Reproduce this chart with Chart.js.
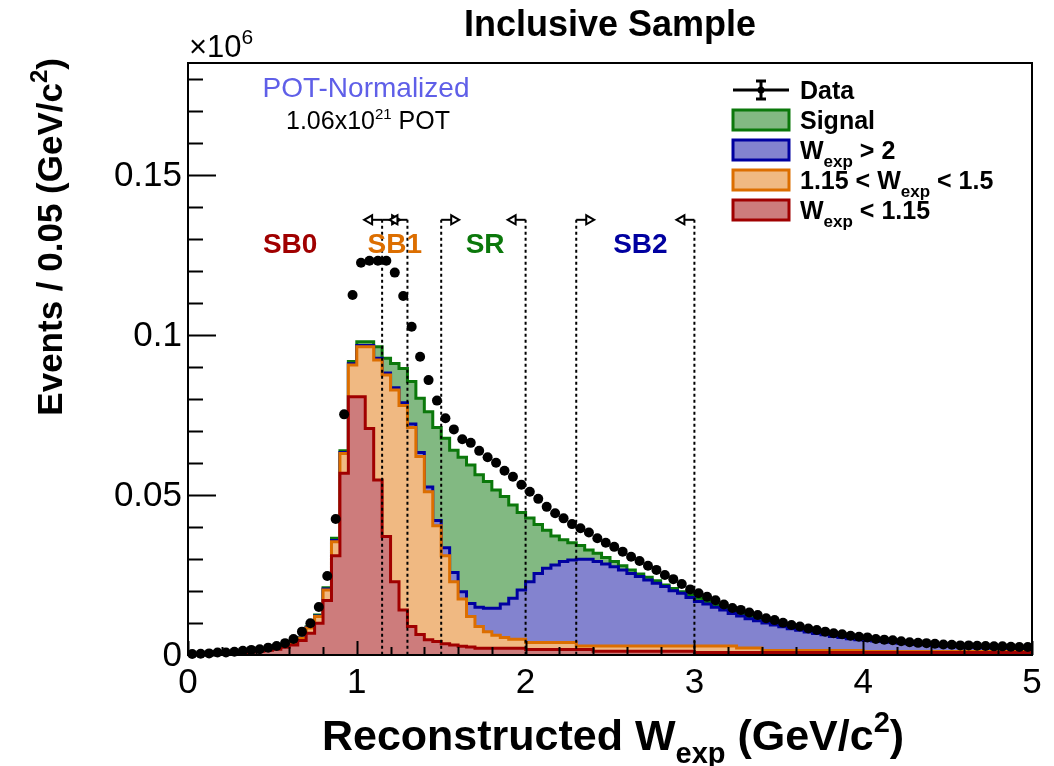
<!DOCTYPE html>
<html lang="en">
<head>
<meta charset="UTF-8">
<title>Inclusive Sample</title>
<script src="https://cdn.jsdelivr.net/npm/chart.js"></script>
<style>
  body { margin: 0; background: #fff; }
</style>
</head>
<body>
<canvas id="wexpChart" width="1054" height="766"></canvas>
<script>
// Reconstructed W_exp, 0 - 5 GeV/c^2 in 0.05 bins. Values are in units of 10^6 events.
const binWidth = 0.05;

// W_exp < 1.15 (red)
const wLow = [
  0.0002, 0.0002, 0.0003, 0.0004, 0.0005, 0.0006, 0.0008, 0.0010, 0.0012, 0.0015,
  0.0018, 0.0024, 0.0031, 0.0045, 0.0068, 0.0099, 0.0170, 0.0310, 0.0568, 0.0807,
  0.0807, 0.0708, 0.0547, 0.0370, 0.0229, 0.0141, 0.0089, 0.0064, 0.0048, 0.0042,
  0.0035, 0.0031, 0.0027, 0.0025, 0.0021, 0.0021, 0.0021, 0.0021, 0.0021, 0.0021,
  0.0017, 0.0017, 0.0017, 0.0017, 0.0017, 0.0017, 0.0017, 0.0017, 0.0012, 0.0012,
  0.0012, 0.0012, 0.0012, 0.0012, 0.0012, 0.0012, 0.0012, 0.0012, 0.0012, 0.0012,
  0.0008, 0.0008, 0.0008, 0.0008, 0.0008, 0.0008, 0.0008, 0.0008, 0.0008, 0.0008,
  0.0008, 0.0008, 0.0008, 0.0008, 0.0008, 0.0008, 0.0008, 0.0008, 0.0008, 0.0008,
  0.0008, 0.0008, 0.0008, 0.0008, 0.0008, 0.0008, 0.0008, 0.0008, 0.0008, 0.0008,
  0.0008, 0.0008, 0.0008, 0.0008, 0.0008, 0.0008, 0.0008, 0.0008, 0.0008, 0.0008
];

// 1.15 < W_exp < 1.5 (orange)
const wMid = [
  0.0001, 0.0001, 0.0001, 0.0001, 0.0001, 0.0001, 0.0001, 0.0002, 0.0002, 0.0002,
  0.0002, 0.0003, 0.0005, 0.0007, 0.0016, 0.0021, 0.0033, 0.0044, 0.0062, 0.0099,
  0.0156, 0.0255, 0.0375, 0.0505, 0.0599, 0.0639, 0.0622, 0.0556, 0.0462, 0.0362,
  0.0275, 0.0198, 0.0148, 0.0095, 0.0068, 0.0052, 0.0041, 0.0034, 0.0028, 0.0028,
  0.0022, 0.0022, 0.0022, 0.0022, 0.0022, 0.0022, 0.0011, 0.0011, 0.0016, 0.0016,
  0.0016, 0.0016, 0.0016, 0.0016, 0.0016, 0.0016, 0.0016, 0.0016, 0.0016, 0.0016,
  0.0020, 0.0020, 0.0020, 0.0020, 0.0020, 0.0014, 0.0014, 0.0014, 0.0006, 0.0006,
  0.0006, 0.0006, 0.0006, 0.0006, 0.0006, 0.0006, 0.0006, 0.0006, 0.0006, 0.0006,
  0.0003, 0.0003, 0.0003, 0.0003, 0.0003, 0.0003, 0.0003, 0.0003, 0.0003, 0.0003,
  0.0003, 0.0003, 0.0003, 0.0003, 0.0003, 0.0003, 0.0003, 0.0003, 0.0003, 0.0003
];

// W_exp > 2 (blue)
const wHigh = [
  0.0000, 0.0000, 0.0000, 0.0000, 0.0000, 0.0000, 0.0000, 0.0000, 0.0000, 0.0000,
  0.0001, 0.0001, 0.0001, 0.0001, 0.0002, 0.0002, 0.0003, 0.0004, 0.0003, 0.0004,
  0.0004, 0.0004, 0.0005, 0.0006, 0.0007, 0.0008, 0.0011, 0.0013, 0.0015, 0.0016,
  0.0025, 0.0029, 0.0023, 0.0041, 0.0060, 0.0073, 0.0084, 0.0104, 0.0128, 0.0154,
  0.0190, 0.0216, 0.0232, 0.0242, 0.0253, 0.0258, 0.0271, 0.0271, 0.0264, 0.0256,
  0.0248, 0.0238, 0.0227, 0.0217, 0.0206, 0.0196, 0.0186, 0.0173, 0.0165, 0.0152,
  0.0139, 0.0131, 0.0121, 0.0113, 0.0102, 0.0100, 0.0091, 0.0085, 0.0086, 0.0080,
  0.0074, 0.0068, 0.0063, 0.0058, 0.0053, 0.0049, 0.0044, 0.0041, 0.0037, 0.0034,
  0.0034, 0.0033, 0.0031, 0.0029, 0.0026, 0.0024, 0.0022, 0.0021, 0.0019, 0.0017,
  0.0016, 0.0015, 0.0014, 0.0013, 0.0012, 0.0011, 0.0011, 0.0010, 0.0009, 0.0009
];

// Signal (green)
const signal = [
  0.0000, 0.0000, 0.0000, 0.0000, 0.0000, 0.0000, 0.0000, 0.0000, 0.0000, 0.0000,
  0.0001, 0.0001, 0.0001, 0.0001, 0.0002, 0.0003, 0.0004, 0.0007, 0.0005, 0.0007,
  0.0012, 0.0012, 0.0036, 0.0046, 0.0076, 0.0107, 0.0133, 0.0169, 0.0235, 0.0291,
  0.0342, 0.0382, 0.0420, 0.0433, 0.0414, 0.0396, 0.0370, 0.0336, 0.0292, 0.0242,
  0.0199, 0.0153, 0.0119, 0.0091, 0.0068, 0.0054, 0.0043, 0.0029, 0.0026, 0.0021,
  0.0016, 0.0013, 0.0011, 0.0008, 0.0009, 0.0008, 0.0005, 0.0007, 0.0005, 0.0008,
  0.0010, 0.0008, 0.0007, 0.0005, 0.0005, 0.0005, 0.0005, 0.0005, 0.0005, 0.0004,
  0.0004, 0.0004, 0.0003, 0.0003, 0.0003, 0.0002, 0.0002, 0.0002, 0.0002, 0.0002,
  0.0002, 0.0002, 0.0002, 0.0002, 0.0002, 0.0002, 0.0002, 0.0002, 0.0002, 0.0002,
  0.0002, 0.0002, 0.0002, 0.0002, 0.0002, 0.0002, 0.0002, 0.0002, 0.0002, 0.0002
];

// Data (black points)
const dataPts = [
  0.0003, 0.0004, 0.0005, 0.0008, 0.0008, 0.0010, 0.0013, 0.0016, 0.0018, 0.0023,
  0.0028, 0.0037, 0.0050, 0.0073, 0.0099, 0.0150, 0.0247, 0.0425, 0.0752, 0.1125,
  0.1226, 0.1232, 0.1232, 0.1232, 0.1195, 0.1122, 0.1026, 0.0932, 0.0859, 0.0795,
  0.0740, 0.0705, 0.0674, 0.0663, 0.0638, 0.0618, 0.0601, 0.0576, 0.0557, 0.0532,
  0.0510, 0.0488, 0.0463, 0.0443, 0.0427, 0.0409, 0.0396, 0.0383, 0.0365, 0.0351,
  0.0338, 0.0323, 0.0307, 0.0294, 0.0279, 0.0266, 0.0250, 0.0237, 0.0222, 0.0205,
  0.0193, 0.0182, 0.0171, 0.0158, 0.0147, 0.0141, 0.0133, 0.0125, 0.0115, 0.0109,
  0.0101, 0.0094, 0.0089, 0.0083, 0.0078, 0.0073, 0.0068, 0.0065, 0.0060, 0.0057,
  0.0055, 0.0050, 0.0048, 0.0046, 0.0043, 0.0040, 0.0038, 0.0037, 0.0035, 0.0033,
  0.0032, 0.0030, 0.0030, 0.0029, 0.0028, 0.0027, 0.0027, 0.0026, 0.0025, 0.0025
];

const xTicks = [0, 1, 2, 3, 4, 5];
const yTicks = [0, 0.05, 0.1, 0.15];
const yTickLabels = ['0', '0.05', '0.1', '0.15'];

// sideband / signal region cuts and their labels
const regionCuts = [1.15, 1.3, 1.5, 2.0, 2.3, 3.0];
const regionNames = ['SB0', 'SB1', 'SR', 'SB2'];
const regionCenters = [0.605, 1.225, 1.76, 2.68];

const FONT = '"Liberation Sans", Arial, Helvetica, sans-serif';
const colors = {
  green: '#0b780b',
  blue: '#0000a0',
  orange: '#dc6e00',
  red: '#a00000',
  pot: '#5f5fe8'
};
// pale fills (ROOT's fine dot pattern seen from afar)
const fills = {
  green: '#82b982',
  blue: '#8383cf',
  orange: '#f0b982',
  red: '#cd7c7c'
};

const canvas = document.getElementById('wexpChart');
const ctx = canvas.getContext('2d');

// stack the components
const cumLow = wLow.slice();
const cumMid = cumLow.map((v, i) => v + wMid[i]);
const cumHigh = cumMid.map((v, i) => v + wHigh[i]);
const cumSig = cumHigh.map((v, i) => v + signal[i]);

// step outline: one point per left bin edge plus the closing edge
function steps(vals) {
  const pts = vals.map((v, i) => ({ x: i * binWidth, y: v }));
  pts.push({ x: vals.length * binWidth, y: vals[vals.length - 1] });
  return pts;
}

function histDataset(label, parts, vals, key, order) {
  return {
    label: label,
    labelParts: parts,
    data: steps(vals),
    stepped: true,
    borderColor: colors[key],
    borderWidth: 3,
    backgroundColor: fills[key],
    fill: 'origin',
    pointRadius: 0,
    order: order
  };
}

const datasets = [
  {
    label: 'Data',
    labelParts: [['Data', '']],
    data: dataPts.map((v, i) => ({ x: (i + 0.5) * binWidth, y: v })),
    showLine: false,
    pointRadius: 5,
    pointBackgroundColor: '#000',
    pointBorderColor: '#000',
    pointBorderWidth: 0,
    clip: false,
    order: 0
  },
  histDataset('Signal', [['Signal', '']], cumSig, 'green', 4),
  histDataset('Wexp > 2', [['W', ''], ['exp', 'sub'], [' > 2', '']], cumHigh, 'blue', 3),
  histDataset('1.15 < Wexp < 1.5', [['1.15 < W', ''], ['exp', 'sub'], [' < 1.5', '']], cumMid, 'orange', 2),
  histDataset('Wexp < 1.15', [['W', ''], ['exp', 'sub'], [' < 1.15', '']], cumLow, 'red', 1)
];

function font(size, bold) {
  return (bold ? 'bold ' : '') + size + 'px ' + FONT;
}

// text with sub/superscripts; parts = [[text, ''|'sub'|'sup'], ...]
function drawRich(g, parts, x, y, size, bold, color, align, smallSize) {
  const small = smallSize || Math.round(size * 0.68);
  const widths = parts.map(([t, m]) => {
    g.font = font(m ? small : size, bold);
    return g.measureText(t).width;
  });
  const total = widths.reduce((a, b) => a + b, 0);
  let cx = align === 'center' ? x - total / 2 : align === 'right' ? x - total : x;
  g.fillStyle = color;
  g.textAlign = 'left';
  g.textBaseline = 'alphabetic';
  parts.forEach(([t, m], i) => {
    g.font = font(m ? small : size, bold);
    const dy = m === 'sub' ? size * 0.3 : m === 'sup' ? -size * 0.42 : 0;
    g.fillText(t, cx, y + dy);
    cx += widths[i];
  });
  return total;
}

const rootStyle = {
  id: 'rootStyle',
  afterDatasetsDraw(chart) {
    const g = chart.ctx;
    const xs = chart.scales.x, ys = chart.scales.y;
    const yBase = ys.getPixelForValue(0);
    const yTop = ys.getPixelForValue(0.136);
    const arrowLen = 18;
    // arrow directions at each cut: -1 left, 1 right
    const dirs = [[-1, 1], [-1], [1], [-1], [1], [-1]];
    g.save();
    g.strokeStyle = '#000';
    g.lineWidth = 2;
    regionCuts.forEach((c, i) => {
      const px = xs.getPixelForValue(c);
      g.setLineDash([3, 3]);
      g.beginPath();
      g.moveTo(px, yTop);
      g.lineTo(px, yBase);
      g.stroke();
      g.setLineDash([]);
      dirs[i].forEach(d => {
        const tip = px + d * arrowLen;
        g.beginPath();
        g.moveTo(px, yTop);
        g.lineTo(tip - d * 8, yTop);
        g.stroke();
        g.beginPath();
        g.moveTo(tip, yTop);
        g.lineTo(tip - d * 8, yTop - 4.5);
        g.lineTo(tip - d * 8, yTop + 4.5);
        g.closePath();
        g.fillStyle = '#fff';
        g.fill();
        g.stroke();
      });
    });
    const nameColors = [colors.red, colors.orange, colors.green, colors.blue];
    g.font = font(28, true);
    g.textAlign = 'center';
    g.textBaseline = 'alphabetic';
    regionNames.forEach((n, i) => {
      g.fillStyle = nameColors[i];
      g.fillText(n, xs.getPixelForValue(regionCenters[i]), ys.getPixelForValue(0.1255));
    });
    g.restore();
  },
  afterDraw(chart) {
    const g = chart.ctx;
    const a = chart.chartArea;
    const xs = chart.scales.x, ys = chart.scales.y;
    g.save();

    // frame
    g.strokeStyle = '#000';
    g.lineWidth = 2;
    g.strokeRect(a.left, a.top, a.right - a.left, a.bottom - a.top);

    // y ticks (inward)
    for (let k = 0; k <= 18; k++) {
      const v = k * 0.01;
      const py = Math.round(ys.getPixelForValue(v)) + 0.5;
      const len = k % 5 === 0 ? 28 : 15;
      g.beginPath();
      g.moveTo(a.left, py);
      g.lineTo(a.left + len, py);
      g.stroke();
    }
    // x ticks (inward)
    for (let k = 0; k <= 25; k++) {
      const v = k * 0.2;
      const px = Math.round(xs.getPixelForValue(v)) + 0.5;
      const len = k % 5 === 0 ? 14 : 8;
      g.beginPath();
      g.moveTo(px, a.bottom);
      g.lineTo(px, a.bottom - len);
      g.stroke();
    }

    // tick labels
    g.fillStyle = '#000';
    g.font = font(35, false);
    g.textAlign = 'right';
    g.textBaseline = 'middle';
    yTicks.forEach((v, i) => g.fillText(yTickLabels[i], a.left - 6, ys.getPixelForValue(v) + 1));
    g.textAlign = 'center';
    g.textBaseline = 'alphabetic';
    xTicks.forEach(v => g.fillText(String(v), xs.getPixelForValue(v), a.bottom + 38));

    // exponent
    drawRich(g, [['\u00d710', ''], ['6', 'sup']], a.left + 1, 57, 31, false, '#000', 'left', 21);

    // title
    g.font = font(36, true);
    g.textAlign = 'center';
    g.fillStyle = '#000';
    g.fillText('Inclusive Sample', (a.left + a.right) / 2, 36);

    // axis titles
    drawRich(g, [['Reconstructed W', ''], ['exp', 'sub'], [' (GeV/c', ''], ['2', 'sup'], [')', '']],
      (a.left + a.right) / 2 + 3, 750, 43, true, '#000', 'center', 29);
    g.save();
    g.translate(62, 58);
    g.rotate(-Math.PI / 2);
    drawRich(g, [['Events / 0.05 (GeV/c', ''], ['2', 'sup'], [')', '']], 0, 0, 35, true, '#000', 'right', 24);
    g.restore();

    // normalisation note
    g.font = font(28, false);
    g.fillStyle = colors.pot;
    g.textAlign = 'center';
    g.fillText('POT-Normalized', 366, 97);
    drawRich(g, [['1.06x10', ''], ['21', 'sup'], [' POT', '']], 368, 129, 25, false, '#000', 'center', 15);

    // legend
    const lx = 733, lw = 56, tx = 800;
    chart.data.datasets.forEach((ds, i) => {
      const cy = 90 + i * 30;
      if (i === 0) {
        g.strokeStyle = '#000';
        g.lineWidth = 3;
        g.beginPath();
        g.moveTo(lx, cy); g.lineTo(lx + lw, cy);
        g.moveTo(lx + lw / 2, cy - 9); g.lineTo(lx + lw / 2, cy + 9);
        g.moveTo(lx + lw / 2 - 5, cy - 9); g.lineTo(lx + lw / 2 + 5, cy - 9);
        g.moveTo(lx + lw / 2 - 5, cy + 9); g.lineTo(lx + lw / 2 + 5, cy + 9);
        g.stroke();
        g.beginPath();
        g.arc(lx + lw / 2, cy, 3.5, 0, Math.PI * 2);
        g.fillStyle = '#000';
        g.fill();
      } else {
        g.fillStyle = ds.backgroundColor;
        g.fillRect(lx, cy - 10, lw, 20);
        g.strokeStyle = ds.borderColor;
        g.lineWidth = 3;
        g.strokeRect(lx, cy - 10, lw, 20);
      }
      drawRich(g, ds.labelParts, tx, cy + 9, 25, true, '#000', 'left', 17);
    });
    g.restore();
  }
};

new Chart(ctx, {
  type: 'line',
  data: { datasets: datasets },
  options: {
    responsive: false,
    animation: false,
    devicePixelRatio: 1,
    layout: { padding: { left: 188, right: 22, top: 63, bottom: 111 } },
    scales: {
      x: { type: 'linear', min: 0, max: 5, display: false },
      y: { type: 'linear', min: 0, max: 0.185, display: false }
    },
    plugins: {
      legend: { display: false },
      tooltip: { enabled: false }
    }
  },
  plugins: [rootStyle]
});
</script>
</body>
</html>
